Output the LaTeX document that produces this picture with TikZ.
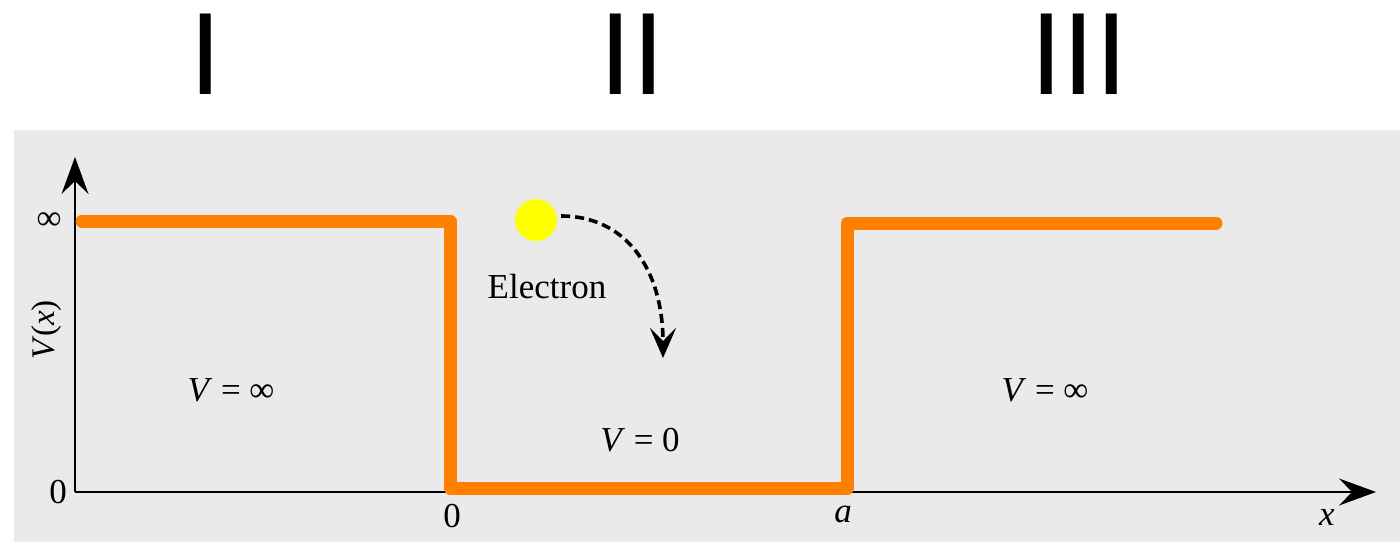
\documentclass[tikz,border=0pt]{standalone}
\usepackage{fontspec}
\setmainfont{Liberation Serif}
\newfontfamily\numfont{Liberation Sans}
\usetikzlibrary{arrows.meta}
\definecolor{bggray}{HTML}{EAEAEA}
\definecolor{wellorange}{HTML}{FF8000}
\definecolor{electronyellow}{HTML}{FFFF00}
\tikzset{
  axisline/.style={line width=1.8pt, -{Stealth[length=37pt,width=27pt,inset=13pt]}},
  wellline/.style={wellorange, line width=13pt, line cap=round, line join=round},
  lbl/.style={inner sep=0pt, font=\fontsize{35}{40}\selectfont},
  region/.style={inner sep=0pt, font=\numfont\fontsize{117}{120}\selectfont},
  movearrow/.style={line width=3.6pt, dash pattern=on 9pt off 5pt, -{Stealth[length=30pt,width=26pt,inset=13pt]}},
}
\begin{document}
\begin{tikzpicture}[x=1pt,y=-1pt]
\useasboundingbox (0,0) rectangle (1400,542);
\fill[bggray] (14,130) rectangle (1400,542);
% region numerals
\node[region] (r1) at (206,54) {I};
\node[region] (r2) at (632,54) {II};
\node[region] (r3) at (1079,54) {III};
% axes
\coordinate (O) at (75,492);
\coordinate (ytop) at (75,157);
\coordinate (xend) at (1376,492);
\draw[axisline] (O) -- (ytop);
\draw[line width=1.8pt] (O) -- (1340,492);
\draw[axisline] (1300,492) -- (xend);
% potential
\coordinate (p1) at (82,221);
\coordinate (p2) at (450,221);
\coordinate (p3) at (450,488);
\coordinate (p4) at (847,488);
\coordinate (p5) at (847,223);
\coordinate (p6) at (1216,223);
\draw[wellline] (p1) -- (p2) -- (p3) -- (p4) -- (p5) -- (p6);
% axis labels
\node[lbl] (inf) at (49,221) {∞};
\node[lbl] (zeroy) at (58,492) {0};
\node[lbl, rotate=90, font=\fontsize{33}{38}\selectfont] (vx) at (47,330) {\textit{V}(\textit{x})};
\node[lbl] (zerox) at (452,516) {0};
\node[lbl] (alab) at (843,514) {\textit{a}};
\node[lbl] (xlab) at (1327,517) {\textit{x}};
% region labels
\node[lbl] (v1) at (231,390) {\textit{V} = ∞};
\node[lbl] (v2) at (640,440) {\textit{V} = 0};
\node[lbl] (v3) at (1045,390) {\textit{V} = ∞};
% electron
\node[circle, fill=electronyellow, minimum size=42pt, inner sep=0pt] (e) at (536,220) {};
\node[lbl] (elab) at (547,287) {Electron};
\coordinate (etip) at (663,358);
\draw[movearrow] ([xshift=4pt,yshift=4pt]e.east) .. controls (625,216) and (663,268) .. (etip);
\end{tikzpicture}
\end{document}
